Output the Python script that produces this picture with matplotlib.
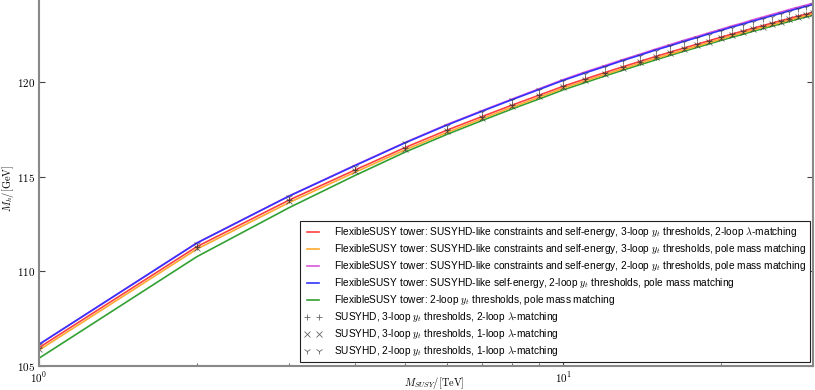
import math
import matplotlib
matplotlib.use("Agg")
import matplotlib.pyplot as plt
from matplotlib.ticker import FixedLocator, FuncFormatter, LogLocator, NullFormatter

plt.rcParams['mathtext.fontset'] = 'cm'
plt.rcParams['font.family'] = ['Liberation Sans', 'DejaVu Sans']

msusy = list(range(1, 31))

fs_3l_2lam = [105.97, 111.30, 113.76, 115.34, 116.54, 117.45, 118.17, 118.78, 119.30, 119.77,
              120.15, 120.49, 120.80, 121.08, 121.34, 121.57, 121.79, 121.99, 122.18, 122.36,
              122.53, 122.68, 122.83, 122.97, 123.10, 123.23, 123.35, 123.47, 123.57, 123.68]
fs_3l_pole = [105.84, 111.17, 113.63, 115.22, 116.42, 117.33, 118.06, 118.67, 119.19, 119.67,
              120.05, 120.39, 120.70, 120.98, 121.24, 121.47, 121.69, 121.89, 122.08, 122.26,
              122.44, 122.59, 122.74, 122.88, 123.01, 123.14, 123.26, 123.39, 123.49, 123.60]
fs_2l_pole = [106.14, 111.50, 113.98, 115.59, 116.81, 117.75, 118.48, 119.10, 119.64, 120.12,
              120.52, 120.86, 121.18, 121.46, 121.73, 121.97, 122.20, 122.40, 122.60, 122.78,
              122.96, 123.11, 123.28, 123.42, 123.56, 123.69, 123.82, 123.94, 124.05, 124.16]
fs_se_2l_pole = [106.14, 111.49, 113.97, 115.57, 116.79, 117.72, 118.45, 119.07, 119.60, 120.08,
                 120.47, 120.81, 121.13, 121.41, 121.68, 121.91, 122.14, 122.34, 122.54, 122.72,
                 122.90, 123.05, 123.21, 123.35, 123.49, 123.62, 123.75, 123.87, 123.98, 124.09]
fs_2l_plain = [105.41, 110.77, 113.36, 115.05, 116.30, 117.23, 117.96, 118.58, 119.10, 119.58,
               119.96, 120.31, 120.62, 120.90, 121.16, 121.40, 121.62, 121.82, 122.01, 122.19,
               122.36, 122.51, 122.67, 122.81, 122.94, 123.07, 123.19, 123.32, 123.42, 123.53]

shd_3l_2lam = [105.95, 111.28, 113.75, 115.33, 116.53, 117.44, 118.16, 118.77, 119.29, 119.76,
               120.14, 120.48, 120.79, 121.07, 121.33, 121.56, 121.78, 121.98, 122.17, 122.35,
               122.52, 122.67, 122.82, 122.96, 123.09, 123.22, 123.34, 123.46, 123.56, 123.67]
shd_3l_1lam = [105.90, 111.22, 113.70, 115.28, 116.48, 117.40, 118.12, 118.73, 119.25, 119.72,
               120.10, 120.44, 120.75, 121.03, 121.29, 121.52, 121.74, 121.94, 122.13, 122.31,
               122.48, 122.63, 122.78, 122.92, 123.05, 123.18, 123.30, 123.42, 123.52, 123.63]
shd_2l_1lam = [106.10, 111.45, 113.93, 115.53, 116.75, 117.68, 118.41, 119.03, 119.56, 120.04,
               120.43, 120.77, 121.09, 121.37, 121.64, 121.87, 122.10, 122.30, 122.50, 122.68,
               122.86, 123.01, 123.17, 123.31, 123.45, 123.58, 123.71, 123.83, 123.94, 124.05]

line_labels = [
    r"FlexibleSUSY tower: SUSYHD-like constraints and self-energy, 3-loop $y_t$ thresholds, 2-loop $\lambda$-matching",
    r"FlexibleSUSY tower: SUSYHD-like constraints and self-energy, 3-loop $y_t$ thresholds, pole mass matching",
    r"FlexibleSUSY tower: SUSYHD-like constraints and self-energy, 2-loop $y_t$ thresholds, pole mass matching",
    r"FlexibleSUSY tower: SUSYHD-like self-energy, 2-loop $y_t$ thresholds, pole mass matching",
    r"FlexibleSUSY tower: 2-loop $y_t$ thresholds, pole mass matching",
]
marker_labels = [
    r"SUSYHD, 3-loop $y_t$ thresholds, 2-loop $\lambda$-matching",
    r"SUSYHD, 3-loop $y_t$ thresholds, 1-loop $\lambda$-matching",
    r"SUSYHD, 2-loop $y_t$ thresholds, 1-loop $\lambda$-matching",
]
y_ticks = [105, 110, 115, 120]

fig = plt.figure(figsize=(8.15, 3.9), dpi=100)
ax = fig.add_axes([39/815, 24/390, 774.3/815, 378.8/390])

line_series = [fs_3l_2lam, fs_3l_pole, fs_2l_pole, fs_se_2l_pole, fs_2l_plain]
line_colors = ['#ff4040', '#ffaa30', '#dd55dd', '#3333ff', '#33a033']
draw_order = [4, 1, 0, 2, 3]
handles = [None]*5
for i in draw_order:
    h, = ax.plot(msusy, line_series[i], color=line_colors[i], lw=1.2, label=line_labels[i])
    handles[i] = h

mk_series = [shd_3l_2lam, shd_3l_1lam, shd_2l_1lam]
mk_styles = ['+', 'x', '1']
mk_handles = []
for s, m, lab in zip(mk_series, mk_styles, marker_labels):
    h, = ax.plot(msusy, s, ls='none', marker=m, ms=5, mew=0.6,
                 color='#333333', alpha=0.75, label=lab)
    mk_handles.append(h)

ax.set_xscale('log')
ax.set_xlim(1, 30)
ax.set_ylim(105, 125)
ax.yaxis.set_major_locator(FixedLocator(y_ticks))
ax.yaxis.set_major_formatter(FuncFormatter(lambda v, p: r'$%d$' % v))
ax.xaxis.set_major_locator(LogLocator(base=10))
ax.xaxis.set_major_formatter(FuncFormatter(lambda v, p: r'$10^{%d}$' % round(math.log10(v))))
ax.xaxis.set_minor_locator(LogLocator(base=10, subs=range(2, 10)))
ax.xaxis.set_minor_formatter(NullFormatter())
ax.tick_params(which='both', direction='in', top=True, right=True, labelsize=8, color='#444444')
ax.tick_params(which='major', length=4, pad=3)
ax.tick_params(which='minor', length=2)
for sp in ax.spines.values():
    sp.set_color('#888888')
    sp.set_linewidth(1.5)

ax.set_xlabel(r'$M_{SUSY}/[\mathrm{TeV}]$', fontsize=7.5)
ax.set_ylabel(r'$M_h/[\mathrm{GeV}]$', fontsize=7.5)
ax.xaxis.set_label_coords(0.51, -0.045, transform=ax.transAxes)
ax.yaxis.set_label_coords(-0.04, 0.47, transform=ax.transAxes)
ax.xaxis.label.set_va('center')
ax.yaxis.label.set_va('center')

leg = ax.legend(handles=handles + mk_handles, loc='lower right', fontsize=7.3, numpoints=2,
                handlelength=1.8, handletextpad=1.1, labelspacing=0.3, borderpad=0.4,
                borderaxespad=0.35, fancybox=False, framealpha=1, edgecolor='#222222')
leg.get_frame().set_linewidth(0.8)

fig.savefig('out.png', dpi=100)
